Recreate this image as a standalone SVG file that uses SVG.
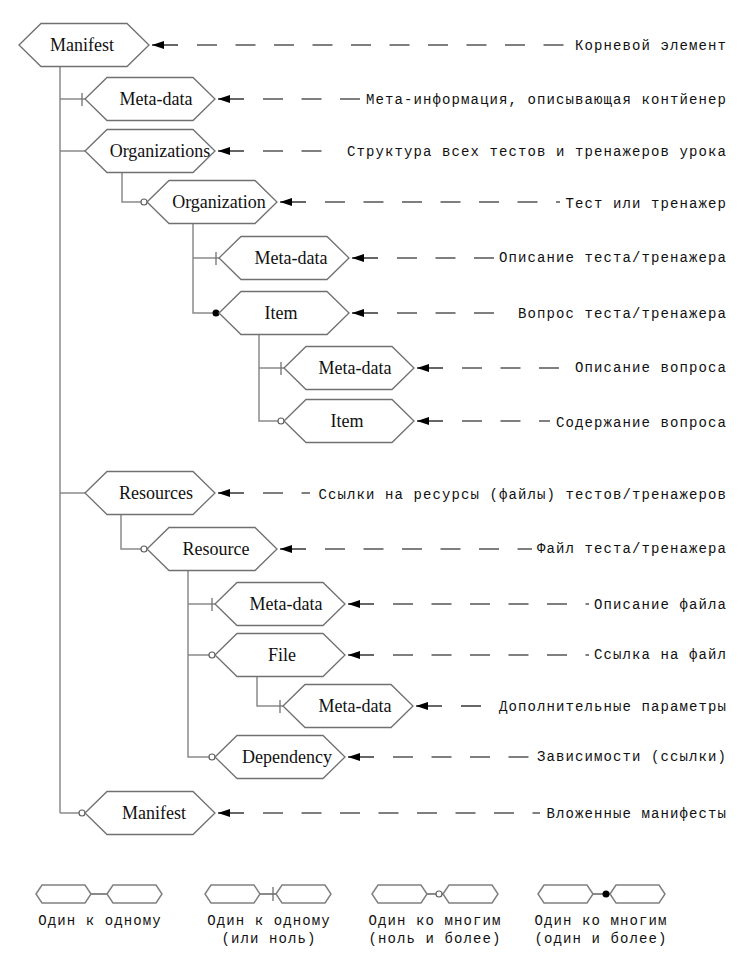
<svg xmlns="http://www.w3.org/2000/svg" xmlns:xlink="http://www.w3.org/1999/xlink" width="753" height="979" viewBox="0 0 753 979">
<style>
.hex{fill:#fff;stroke:#707070;stroke-width:1.3}
.shex{fill:#fff;stroke:#808080;stroke-width:1.5}
.nt{font-family:"Liberation Serif",serif;font-size:18px;fill:#111;text-anchor:middle}
.lb{font-family:"Liberation Mono",monospace;font-size:14px;letter-spacing:1.1px;fill:#111;text-anchor:end}
.lg{font-family:"Liberation Mono",monospace;font-size:14px;letter-spacing:1.1px;fill:#111;text-anchor:middle}
.cn{stroke:#8a8a8a;stroke-width:1.5;fill:none}
.tk{stroke:#707070;stroke-width:1.3}
.oc{fill:#fff;stroke:#606060;stroke-width:1.2}
.fd{fill:#000}
.ar{stroke:#000;stroke-width:1.2;marker-end:url(#ah)}
.ds{stroke:#000;stroke-width:1.2;stroke-dasharray:20 18.5}
</style>
<defs>
<polygon id="hx" class="hex" points="0,0 22,-21.5 108,-21.5 130,0 108,21.5 22,21.5"/>
<polygon id="sh" class="shex" points="0,0 6,-9 49,-9 55,0 49,9 6,9"/>
<marker id="ah" markerUnits="userSpaceOnUse" markerWidth="12" markerHeight="8" refX="12" refY="4" orient="auto">
<path d="M0,0 L12,4 L0,8 z" fill="#000"/>
</marker>
</defs>
<rect width="753" height="979" fill="#fff"/>

<g id="connectors">
<path class="cn" d="M60,67 V813 M60,99 H85 M60,151 H85 M60,493 H85 M60,813 H79"/>
<path class="cn" d="M122,173 V202 H141"/>
<path class="cn" d="M193,224 V313 H213 M193,258 H219"/>
<path class="cn" d="M259,335 V421 H278 M259,368 H284"/>
<path class="cn" d="M121,515 V549 H141"/>
<path class="cn" d="M188,571 V757 H209 M188,604 H215 M188,655 H209"/>
<path class="cn" d="M257,677 V706 H283"/>
<line class="tk" x1="82" y1="93" x2="82" y2="106"/>
<line class="tk" x1="216" y1="252" x2="216" y2="265"/>
<line class="tk" x1="281" y1="362" x2="281" y2="375"/>
<line class="tk" x1="212" y1="598" x2="212" y2="611"/>
<line class="tk" x1="280" y1="700" x2="280" y2="713"/>
<circle class="oc" cx="144" cy="202" r="3"/>
<circle class="fd" cx="216" cy="313" r="3.5"/>
<circle class="oc" cx="281" cy="421" r="3"/>
<circle class="oc" cx="144" cy="549" r="3"/>
<circle class="oc" cx="212" cy="655" r="3"/>
<circle class="oc" cx="212" cy="757" r="3"/>
<circle class="oc" cx="82" cy="813" r="3"/>
</g>

<g id="leaders">
<line class="ar" x1="178" y1="45" x2="152" y2="45"/><line class="ds" x1="197" y1="45" x2="566" y2="45"/>
<line class="ar" x1="244" y1="99" x2="218" y2="99"/><line class="ds" x1="263" y1="99" x2="362" y2="99"/>
<line class="ar" x1="244" y1="151" x2="218" y2="151"/><line class="ds" x1="263" y1="151" x2="334" y2="151"/>
<line class="ar" x1="306" y1="202" x2="280" y2="202"/><line class="ds" x1="325" y1="202" x2="560" y2="202"/>
<line class="ar" x1="378" y1="258" x2="352" y2="258"/><line class="ds" x1="397" y1="258" x2="494" y2="258"/>
<line class="ar" x1="378" y1="313" x2="352" y2="313"/><line class="ds" x1="397" y1="313" x2="506" y2="313"/>
<line class="ar" x1="443" y1="368" x2="417" y2="368"/><line class="ds" x1="462" y1="368" x2="563" y2="368"/>
<line class="ar" x1="443" y1="421" x2="417" y2="421"/><line class="ds" x1="462" y1="421" x2="550" y2="421"/>
<line class="ar" x1="244" y1="493" x2="218" y2="493"/><line class="ds" x1="263" y1="493" x2="310" y2="493"/>
<line class="ar" x1="306" y1="549" x2="280" y2="549"/><line class="ds" x1="325" y1="549" x2="532" y2="549"/>
<line class="ar" x1="374" y1="604" x2="348" y2="604"/><line class="ds" x1="393" y1="604" x2="589" y2="604"/>
<line class="ar" x1="374" y1="655" x2="348" y2="655"/><line class="ds" x1="393" y1="655" x2="589" y2="655"/>
<line class="ar" x1="442" y1="706" x2="416" y2="706"/><line class="ds" x1="461" y1="706" x2="490" y2="706"/>
<line class="ar" x1="374" y1="757" x2="348" y2="757"/><line class="ds" x1="393" y1="757" x2="532" y2="757"/>
<line class="ar" x1="244" y1="813" x2="218" y2="813"/><line class="ds" x1="263" y1="813" x2="540" y2="813"/>
</g>

<g id="n-manifest"><use href="#hx" x="19" y="45"/><text class="nt" x="82" y="51">Manifest</text></g>
<g id="n-meta1"><use href="#hx" x="85" y="99"/><text class="nt" x="156" y="105">Meta-data</text></g>
<g id="n-organizations"><use href="#hx" x="85" y="151"/><text class="nt" x="160" y="157">Organizations</text></g>
<g id="n-organization"><use href="#hx" x="147" y="202"/><text class="nt" x="219" y="208">Organization</text></g>
<g id="n-meta2"><use href="#hx" x="219" y="258"/><text class="nt" x="291" y="264">Meta-data</text></g>
<g id="n-item1"><use href="#hx" x="219" y="313"/><text class="nt" x="281" y="319">Item</text></g>
<g id="n-meta3"><use href="#hx" x="284" y="368"/><text class="nt" x="355" y="374">Meta-data</text></g>
<g id="n-item2"><use href="#hx" x="284" y="421"/><text class="nt" x="347" y="427">Item</text></g>
<g id="n-resources"><use href="#hx" x="85" y="493"/><text class="nt" x="156" y="499">Resources</text></g>
<g id="n-resource"><use href="#hx" x="147" y="549"/><text class="nt" x="216" y="555">Resource</text></g>
<g id="n-meta4"><use href="#hx" x="215" y="604"/><text class="nt" x="286" y="610">Meta-data</text></g>
<g id="n-file"><use href="#hx" x="215" y="655"/><text class="nt" x="282" y="661">File</text></g>
<g id="n-meta5"><use href="#hx" x="283" y="706"/><text class="nt" x="355" y="712">Meta-data</text></g>
<g id="n-dependency"><use href="#hx" x="215" y="757"/><text class="nt" x="287" y="763">Dependency</text></g>
<g id="n-manifest2"><use href="#hx" x="85" y="813"/><text class="nt" x="154" y="819">Manifest</text></g>

<g id="labels">
<text class="lb" x="727" y="50">Корневой элемент</text>
<text class="lb" x="727" y="104">Мета-информация, описывающая контйенер</text>
<text class="lb" x="727" y="156">Структура всех тестов и тренажеров урока</text>
<text class="lb" x="727" y="208">Тест или тренажер</text>
<text class="lb" x="727" y="262">Описание теста/тренажера</text>
<text class="lb" x="727" y="318">Вопрос теста/тренажера</text>
<text class="lb" x="727" y="372">Описание вопроса</text>
<text class="lb" x="727" y="427">Содержание вопроса</text>
<text class="lb" x="727" y="499">Ссылки на ресурсы (файлы) тестов/тренажеров</text>
<text class="lb" x="727" y="553">Файл теста/тренажера</text>
<text class="lb" x="727" y="609">Описание файла</text>
<text class="lb" x="727" y="659">Ссылка на файл</text>
<text class="lb" x="727" y="711">Дополнительные параметры</text>
<text class="lb" x="727" y="761">Зависимости (ссылки)</text>
<text class="lb" x="727" y="818">Вложенные манифесты</text>
</g>

<g id="legend">
<g id="lg1">
<line class="cn" x1="91" y1="894" x2="107" y2="894" style="stroke-width:2"/>
<use href="#sh" x="36" y="894"/><use href="#sh" x="107" y="894"/>
<text class="lg" x="100" y="925">Один к одному</text>
</g>
<g id="lg2">
<line class="cn" x1="260" y1="894" x2="276" y2="894" style="stroke-width:2"/>
<use href="#sh" x="205" y="894"/><use href="#sh" x="276" y="894"/>
<line class="tk" x1="273" y1="887" x2="273" y2="901"/>
<text class="lg" x="269" y="925">Один к одному</text>
<text class="lg" x="269" y="943">(или ноль)</text>
</g>
<g id="lg3">
<line class="cn" x1="427" y1="894" x2="443" y2="894" style="stroke-width:2"/>
<use href="#sh" x="372" y="894"/><use href="#sh" x="443" y="894"/>
<circle class="oc" cx="439" cy="894" r="3"/>
<text class="lg" x="435" y="925">Один ко многим</text>
<text class="lg" x="435" y="943">(ноль и более)</text>
</g>
<g id="lg4">
<line class="cn" x1="593" y1="894" x2="610" y2="894" style="stroke-width:2"/>
<use href="#sh" x="538" y="894"/><use href="#sh" x="610" y="894"/>
<circle class="fd" cx="606" cy="894" r="3.5"/>
<text class="lg" x="601" y="925">Один ко многим</text>
<text class="lg" x="601" y="943">(один и более)</text>
</g>
</g>
</svg>
